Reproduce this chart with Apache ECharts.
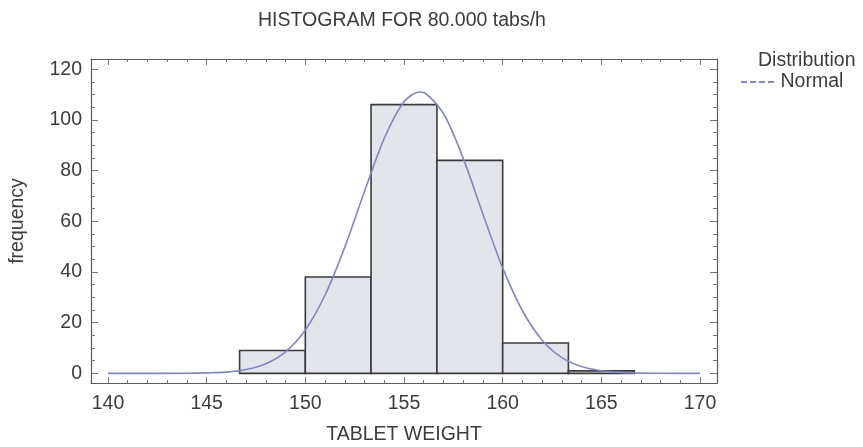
<!DOCTYPE html>
<html>
<head>
<meta charset="utf-8">
<script src="https://cdn.jsdelivr.net/npm/echarts@6/dist/echarts.min.js"></script>
<style>
html,body{margin:0;padding:0;background:#fff;}
#chart{width:863px;height:447px;}
</style>
</head>
<body>
<div id="chart"></div>
<script>
// Histogram bins (TABLET WEIGHT) and frequencies
const binStart = [146.67, 150.00, 153.33, 156.67, 160.00, 163.33];
const binEnd   = [150.00, 153.33, 156.67, 160.00, 163.33, 166.67];
const counts   = [9, 38, 106, 84, 12, 1];

// Fitted normal curve
const curveX = [140, 142, 144, 145, 146, 147, 148, 149, 150, 151, 152, 153, 154, 155, 155.8, 156, 157, 158, 159, 160, 161, 162, 163, 164, 165, 166, 167, 168, 170];
const curveY = [0, 0, 0.05, 0.2, 0.5, 1.5, 3.8, 8.5, 17.1, 30.9, 49.8, 71.8, 92.7, 107.1, 111, 110.8, 102.5, 84.8, 62.8, 41.6, 24.7, 13.1, 6.2, 2.7, 1.0, 0.35, 0.1, 0.03, 0];

// Tick labels
const xTicks = [140, 145, 150, 155, 160, 165, 170];
const xMinor = [141,142,143,144,146,147,148,149,151,152,153,154,156,157,158,159,161,162,163,164,166,167,168,169];
const yTicks = [0, 20, 40, 60, 80, 100, 120];
const yMinor = [5,10,15,25,30,35,45,50,55,65,70,75,85,90,95,105,110,115];

const title = 'HISTOGRAM FOR 80.000 tabs/h';
const xName = 'TABLET WEIGHT';
const yName = 'frequency';
const legendTitle = 'Distribution';
const seriesName = 'Normal';

const FONT = "'Liberation Sans', Arial, sans-serif";
const FS = 19.5;
const TXT = '#3c3c3c';
const FRAME = '#5a5a5a';
const CURVE = '#8286c4';
const XMIN = 139.14, XMAX = 170.86, YMIN = -3.8, YMAX = 124;

function xAx(pos, vals, len, primary, showLine) {
  return {
    type: 'value', position: pos, min: XMIN, max: XMAX,
    axisLine: {show: showLine, onZero: false, lineStyle: {color: FRAME, width: 1.2}},
    axisTick: {show: true, inside: true, length: len, customValues: vals, lineStyle: {color: '#777', width: 1}},
    axisLabel: primary ? {show: true, customValues: xTicks, color: TXT, fontSize: FS, fontFamily: FONT, margin: 11} : {show: false},
    splitLine: {show: false},
    name: primary ? xName : '', nameLocation: 'middle', nameGap: 42,
    nameTextStyle: {color: TXT, fontSize: FS, fontFamily: FONT}
  };
}
function yAx(pos, vals, len, primary, showLine) {
  return {
    type: 'value', position: pos, min: YMIN, max: YMAX,
    axisLine: {show: showLine, onZero: false, lineStyle: {color: FRAME, width: 1.2}},
    axisTick: {show: true, inside: true, length: len, customValues: vals, lineStyle: {color: '#777', width: 1}},
    axisLabel: primary ? {show: true, customValues: yTicks, color: TXT, fontSize: FS, fontFamily: FONT, margin: 9} : {show: false},
    splitLine: {show: false},
    name: primary ? yName : '', nameLocation: 'middle', nameGap: 63, nameRotate: 90,
    nameTextStyle: {color: TXT, fontSize: FS, fontFamily: FONT}
  };
}

const chart = echarts.init(document.getElementById('chart'), null, {renderer: 'canvas'});
const option = {
  backgroundColor: '#fff',
  animation: false,
  title: {
    text: title, left: 258, top: 11, padding: 0,
    textStyle: {color: TXT, fontSize: FS, fontWeight: 'normal', fontFamily: FONT}
  },
  grid: {left: 91, right: 146, top: 59, bottom: 64, containLabel: false, outerBoundsMode: 'none'},
  legend: {
    data: [{name: seriesName, icon: 'path://M0,0h6v2h-6z M9,0h6v2h-6z M18,0h6v2h-6z M27,0h6v2h-6z'}],
    left: 741, top: 72, padding: 0, itemWidth: 36, itemHeight: 2, itemGap: 8,
    textStyle: {color: TXT, fontSize: FS, fontFamily: FONT}
  },
  graphic: [{
    type: 'text', left: 758, top: 51,
    style: {text: legendTitle, fill: TXT, font: FS + "px 'Liberation Sans', Arial, sans-serif"}
  }],
  xAxis: [
    xAx('bottom', xTicks, 6, true, true),
    xAx('bottom', xMinor, 3, false, false),
    xAx('top', xTicks, 6, false, true),
    xAx('top', xMinor, 3, false, false)
  ],
  yAxis: [
    yAx('left', yTicks, 7, true, true),
    yAx('left', yMinor, 4, false, false),
    yAx('right', yTicks, 7, false, true),
    yAx('right', yMinor, 4, false, false)
  ],
  series: [
    {
      type: 'custom', name: 'bins', xAxisIndex: 0, yAxisIndex: 0, z: 2,
      data: binStart.map((s, i) => [s, binEnd[i], counts[i]]),
      encode: {x: [0, 1], y: 2},
      renderItem: function (params, api) {
        const p0 = api.coord([api.value(0), api.value(2)]);
        const p1 = api.coord([api.value(1), 0]);
        return {
          type: 'rect',
          shape: {x: p0[0], y: p0[1], width: p1[0] - p0[0], height: p1[1] - p0[1]},
          style: {fill: '#e3e5ec', stroke: '#3a3a3a', lineWidth: 1.6}
        };
      }
    },
    {
      type: 'line', name: seriesName, xAxisIndex: 0, yAxisIndex: 0, z: 5,
      data: curveX.map((x, i) => [x, curveY[i]]),
      smooth: 0.3, symbol: 'none',
      lineStyle: {color: CURVE, width: 1.6},
      itemStyle: {color: CURVE}
    }
  ]
};
chart.setOption(option);
</script>
</body>
</html>
